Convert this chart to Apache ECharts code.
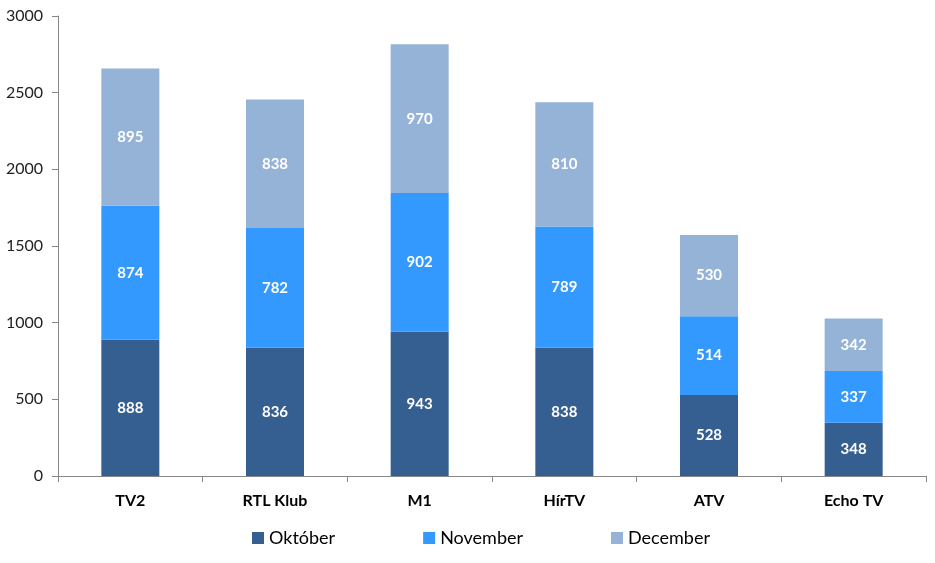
<!DOCTYPE html>
<html><head><meta charset="utf-8">
<script src="https://cdn.jsdelivr.net/npm/echarts@6/dist/echarts.min.js"></script>
<style>html,body{margin:0;padding:0;background:#fff}#c{width:935px;height:563px}</style>
</head><body><div id="c"></div>
<script>
const categories = ['TV2', 'RTL Klub', 'M1', 'HírTV', 'ATV', 'Echo TV'];
const oktober = [888, 836, 943, 838, 528, 348];
const november = [874, 782, 902, 789, 514, 337];
const december = [895, 838, 970, 810, 530, 342];
const seriesNames = ['Október', 'November', 'December'];
const yTicks = [0, 500, 1000, 1500, 2000, 2500, 3000];

const FONT = 'Lato, "Open Sans", sans-serif';
const colors = ['#365f91', '#3399ff', '#95b3d7'];
const chart = echarts.init(document.getElementById('c'));
const mk = (name, data, i) => ({
  name, type: 'bar', stack: 'a', data, barWidth: 58,
  itemStyle: { color: colors[i] },
  label: { show: true, position: 'inside', color: '#fff', fontFamily: FONT, fontWeight: 'bold', fontSize: 15 }
});
chart.setOption({
  animation: false,
  textStyle: { fontFamily: FONT },
  grid: { left: 58, right: 9, top: 16, bottom: 87 },
  legend: {
    bottom: 16, left: 252, itemWidth: 12, itemHeight: 12, itemGap: 88,
    icon: 'rect', data: seriesNames, padding: 0,
    textStyle: { fontFamily: FONT, fontSize: 18, color: '#000' }
  },
  xAxis: {
    type: 'category', data: categories,
    axisLine: { lineStyle: { color: '#868686' } },
    axisTick: { show: true, length: 6, lineStyle: { color: '#868686' } },
    axisLabel: { fontFamily: FONT, fontSize: 16, fontWeight: 'bold', color: '#000', margin: 17 }
  },
  yAxis: {
    type: 'value', min: yTicks[0], max: yTicks[yTicks.length - 1], interval: 500,
    axisLine: { show: true, lineStyle: { color: '#868686' } },
    axisTick: { show: true, length: 6, lineStyle: { color: '#868686' } },
    splitLine: { show: false },
    axisLabel: { fontFamily: FONT, fontSize: 16, color: '#222', margin: 15, formatter: v => String(v) }
  },
  series: [mk(seriesNames[0], oktober, 0), mk(seriesNames[1], november, 1), mk(seriesNames[2], december, 2)]
});
</script></body></html>
